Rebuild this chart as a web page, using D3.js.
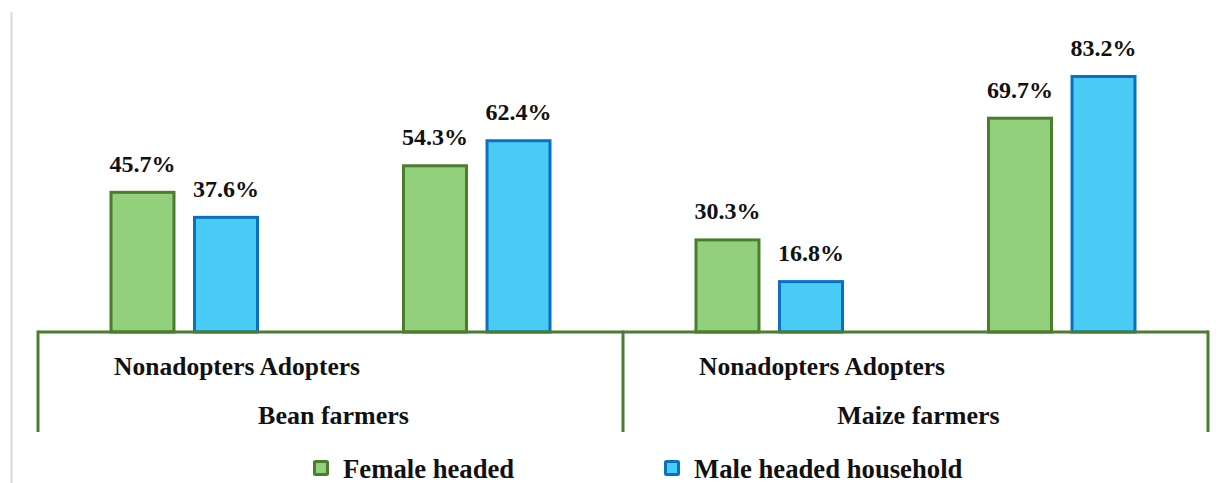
<!DOCTYPE html>
<html><head><meta charset="utf-8">
<script src="https://cdn.jsdelivr.net/npm/d3@7"></script>
<style>html,body{margin:0;padding:0;background:#fff;}svg{display:block;}</style>
</head><body>
<svg id="chart" width="1227" height="483"></svg>
<script>
const groups = ["Bean farmers", "Maize farmers"];
const subcats = ["Nonadopters", "Adopters"];
const series = ["Female headed", "Male headed household"];
const female = [45.7, 54.3, 30.3, 69.7];
const male = [37.6, 62.4, 16.8, 83.2];

const fills = ["#93d07b", "#48cbf5"];
const strokes = ["#4a7d2f", "#0b70c2"];
const font = "Liberation Serif";

const svg = d3.select("#chart");
const W = 1227, H = 483;
const x0 = 38, x1 = 1208, base = 332;

function txt(sel, size) {
  return sel.style("font-family", font).style("font-weight", "bold")
    .style("font-size", size + "px").attr("fill", "#111");
}

// left gray border
svg.append("line").attr("x1", 11.5).attr("x2", 11.5).attr("y1", 12).attr("y2", H)
  .attr("stroke", "#d9d9d9").attr("stroke-width", 2);

const cats = [];
groups.forEach(g => subcats.forEach(s => cats.push(g + "|" + s)));
const data = cats.map((c, i) => ({ cat: c, vals: [female[i], male[i]] }));

const xG = d3.scaleBand().domain(groups).range([x0, x1]);
const xC = d3.scaleBand().domain(cats).range([x0, x1]);
const xS = d3.scaleBand().domain(series).range([0, xC.bandwidth()])
  .paddingInner(0.21).paddingOuter(0.856);
const y = d3.scaleLinear().domain([0, 100]).range([base, base - 308.9]);

const sw = 3;
const gCat = svg.selectAll("g.cat").data(data).join("g")
  .attr("transform", d => `translate(${xC(d.cat)},0)`);

gCat.selectAll("rect").data(d => d.vals.map((v, i) => ({ v, i })))
  .join("rect")
  .attr("x", d => xS(series[d.i]) + sw / 2)
  .attr("width", xS.bandwidth() - sw)
  .attr("y", d => y(d.v) + sw / 2)
  .attr("height", d => y(0) - y(d.v) - sw / 2)
  .attr("fill", d => fills[d.i])
  .attr("stroke", d => strokes[d.i])
  .attr("stroke-width", sw);

txt(gCat.selectAll("text.lbl").data(d => d.vals.map((v, i) => ({ v, i })))
  .join("text").attr("class", "lbl")
  .attr("x", d => xS(series[d.i]) + xS.bandwidth() / 2)
  .attr("y", d => y(d.v) - 19)
  .attr("text-anchor", "middle"), 24)
  .text(d => d.v.toFixed(1) + "%");

// axis
const axisColor = "#4a7d2f";
const ax = svg.append("g");
ax.append("line").attr("x1", x0).attr("x2", x1).attr("y1", base).attr("y2", base)
  .attr("stroke", axisColor).attr("stroke-width", 3);
const seps = [x0, ...groups.slice(1).map(g => xG(g)), x1];
ax.selectAll("line.sep").data(seps).join("line").attr("class", "sep")
  .attr("x1", d => d).attr("x2", d => d).attr("y1", base - 1.5).attr("y2", 432)
  .attr("stroke", axisColor).attr("stroke-width", 3);

// subcategory labels (Nonadopters centred in band, Adopters follows it)
groups.forEach(g => {
  const c = xC(g + "|" + subcats[0]) + xC.bandwidth() / 2;
  const t = txt(svg.append("text")
    .attr("x", c).attr("y", 375)
    .attr("text-anchor", "middle"), 25.5).text(subcats[0]);
  const w = t.node().getComputedTextLength();
  txt(svg.append("text")
    .attr("x", c + w / 2 + 5).attr("y", 375), 25.5).text(subcats[1]);
});

txt(svg.selectAll("text.grp").data(groups).join("text").attr("class", "grp")
  .attr("x", d => xG(d) + xG.bandwidth() / 2 + 3).attr("y", 424)
  .attr("text-anchor", "middle"), 26).text(d => d);

// legend
const legX = [313, 664];
const leg = svg.selectAll("g.leg").data(series).join("g").attr("class", "leg")
  .attr("transform", (d, i) => `translate(${legX[i]},0)`);
leg.append("rect").attr("x", 1.5).attr("y", 461.5).attr("width", 13).attr("height", 13)
  .attr("fill", (d, i) => fills[i]).attr("stroke", (d, i) => strokes[i]).attr("stroke-width", 3)
  .attr("rx", 1);
txt(leg.append("text").attr("x", 30).attr("y", 478), 26.7).text(d => d);
</script>
</body></html>
